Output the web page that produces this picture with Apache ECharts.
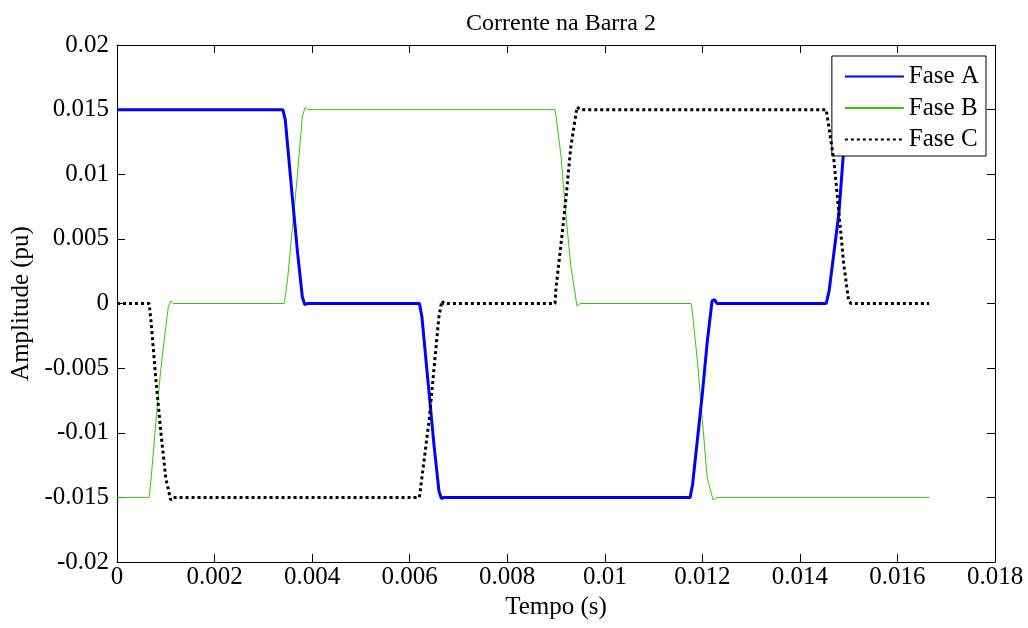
<!DOCTYPE html>
<html>
<head>
<meta charset="utf-8">
<script src="https://cdn.jsdelivr.net/npm/echarts@6/dist/echarts.min.js"></script>
<style>html,body{margin:0;padding:0;background:#fff}#c{width:1028px;height:628px}</style>
</head>
<body>
<div id="c"></div>
<script>
const titleText = 'Corrente na Barra 2';
const xName = 'Tempo (s)';
const yName = 'Amplitude (pu)';
const seriesNames = ['Fase A', 'Fase B', 'Fase C'];

const faseA_t = [0, 0.0034, 0.00345, 0.0036, 0.0037, 0.0038, 0.00385, 0.0039, 0.0062, 0.00625, 0.0064, 0.0065, 0.0066, 0.00665, 0.0067, 0.01175, 0.0118, 0.0120, 0.0121, 0.0122, 0.01225, 0.0123, 0.01454, 0.0146, 0.0148, 0.0149, 0.0150, 0.01665];
const faseA_v = [0.015, 0.015, 0.0142, 0.008, 0.004, 0.0005, -0.0001, 0.0, 0.0, -0.001, -0.007, -0.011, -0.0145, -0.0151, -0.015, -0.015, -0.014, -0.007, -0.003, 0.0002, 0.0003, 0.0, 0.0, 0.001, 0.007, 0.012, 0.015, 0.015];

const faseB_t = [0, 0.00066, 0.0007, 0.0008, 0.0009, 0.00105, 0.0011, 0.00115, 0.00343, 0.0035, 0.0036, 0.0037, 0.0038, 0.00386, 0.0039, 0.00898, 0.0090, 0.0091, 0.0092, 0.0093, 0.00943, 0.0095, 0.01177, 0.0118, 0.0119, 0.0120, 0.0121, 0.01222, 0.0123, 0.01665];
const faseB_v = [-0.015, -0.015, -0.0135, -0.009, -0.005, -0.0003, 0.0002, 0.0, 0.0, 0.002, 0.006, 0.010, 0.0145, 0.0152, 0.015, 0.015, 0.0145, 0.0115, 0.007, 0.003, -0.0002, 0.0, 0.0, -0.0008, -0.0045, -0.009, -0.0135, -0.0152, -0.015, -0.015];

const faseC_t = [0, 0.00066, 0.0007, 0.0008, 0.0009, 0.0010, 0.0011, 0.00115, 0.0062, 0.00625, 0.0064, 0.0065, 0.0066, 0.00666, 0.0067, 0.00898, 0.0090, 0.0091, 0.0092, 0.0093, 0.00943, 0.0095, 0.01454, 0.0146, 0.0147, 0.0148, 0.0149, 0.0150, 0.01505, 0.01665];
const faseC_v = [0.0, 0.0, -0.0015, -0.006, -0.010, -0.0135, -0.0152, -0.015, -0.015, -0.0135, -0.009, -0.005, -0.001, 0.0002, 0.0, 0.0, 0.0012, 0.0045, 0.008, 0.012, 0.0152, 0.015, 0.015, 0.0135, 0.011, 0.007, 0.003, 0.0002, 0.0, 0.0];

const yTicks = { min: -0.02, max: 0.02, interval: 0.005 };
const xTicks = { min: 0, max: 0.018, interval: 0.002 };

function pairs(t, v) { return t.map((x, i) => [x, v[i]]); }
const fmt = v => String(+v.toFixed(4));
const font = 'Liberation Serif';

const chart = echarts.init(document.getElementById('c'), null, { renderer: 'canvas' });
const axisLine = { show: true, onZero: false, lineStyle: { color: '#000', width: 1 } };
const tickIn = { show: true, inside: true, length: 8, lineStyle: { color: '#000' } };
chart.setOption({
  backgroundColor: '#fff',
  animation: false,
  title: { text: titleText, left: 556, top: 7, textAlign: 'center',
    textStyle: { fontFamily: font, fontSize: 24, fontWeight: 'normal', color: '#000' } },
  grid: { left: 117, right: 33, top: 45, bottom: 66 },
  legend: {
    data: seriesNames, orient: 'vertical', right: 42, top: 56,
    backgroundColor: '#fff', borderColor: '#000', borderWidth: 1, borderRadius: 0,
    padding: [8, 7, 4, 12], itemWidth: 59, itemHeight: 14, itemGap: 6.5,
    itemStyle: { opacity: 0 },
    textStyle: { fontFamily: font, fontSize: 25, lineHeight: 25, color: '#000' }
  },
  xAxis: [{
    type: 'value', min: xTicks.min, max: xTicks.max, interval: xTicks.interval,
    name: xName, nameLocation: 'middle', nameGap: 29,
    nameTextStyle: { fontFamily: font, fontSize: 25, color: '#000' },
    axisLine, axisTick: tickIn, splitLine: { show: false },
    axisLabel: { fontFamily: font, fontSize: 25, color: '#000', margin: 3, formatter: fmt }
  }, {
    type: 'value', position: 'top', min: xTicks.min, max: xTicks.max, interval: xTicks.interval,
    axisLine, axisTick: tickIn, splitLine: { show: false }, axisLabel: { show: false }
  }],
  yAxis: [{
    type: 'value', min: yTicks.min, max: yTicks.max, interval: yTicks.interval,
    name: yName, nameLocation: 'middle', nameGap: 80,
    nameTextStyle: { fontFamily: font, fontSize: 25, color: '#000' },
    axisLine, axisTick: tickIn, splitLine: { show: false },
    axisLabel: { fontFamily: font, fontSize: 25, color: '#000', margin: 8, formatter: fmt }
  }, {
    type: 'value', position: 'right', min: yTicks.min, max: yTicks.max, interval: yTicks.interval,
    axisLine, axisTick: tickIn, splitLine: { show: false }, axisLabel: { show: false }
  }],
  series: [
    { name: seriesNames[0], type: 'line', showSymbol: false, symbol: 'none', z: 3,
      data: pairs(faseA_t, faseA_v), color: '#0000ff',
      lineStyle: { color: '#0000ff', width: 3 } },
    { name: seriesNames[1], type: 'line', showSymbol: false, symbol: 'none', z: 2,
      data: pairs(faseB_t, faseB_v), color: '#33cc00',
      lineStyle: { color: '#33cc00', width: 1 } },
    { name: seriesNames[2], type: 'line', showSymbol: false, symbol: 'none', z: 4,
      data: pairs(faseC_t, faseC_v), color: '#000',
      lineStyle: { color: '#000', width: 3, type: [3, 3] } }
  ]
});
</script>
</body>
</html>
